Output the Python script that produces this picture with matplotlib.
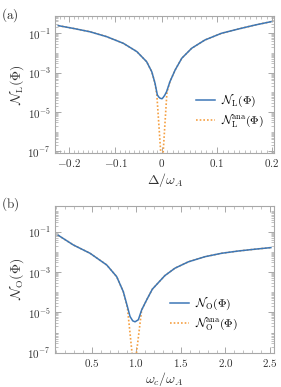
import numpy as np
import matplotlib
matplotlib.use("Agg")
import matplotlib.pyplot as plt
from matplotlib.ticker import FixedLocator, MultipleLocator, LogLocator, FuncFormatter, NullFormatter

plt.rcParams['mathtext.fontset'] = 'cm'
plt.rcParams['font.family'] = 'serif'
plt.rcParams['font.serif'] = ['DejaVu Serif']

# panel (a): negativity vs detuning
delta = [-0.223, -0.191, -0.155, -0.119, -0.083, -0.054, -0.033, -0.022, -0.015,
         -0.010, -0.007, -0.004, 0.0, 0.002, 0.005, 0.0085, 0.0145, 0.024,
         0.036, 0.054, 0.078, 0.108, 0.139, 0.169, 0.198]
nl = [0.245, 0.178, 0.120, 0.0676, 0.0309, 0.0117, 3.6e-3, 1.12e-3, 2.9e-4,
      7.4e-5, 5.8e-5, 5.0e-5, 4.7e-5, 5.4e-5, 7.1e-5, 1.1e-4, 3.5e-4, 1.38e-3,
      5.4e-3, 0.0174, 0.0457, 0.100, 0.166, 0.263, 0.389]
delta_ana = [-0.223, -0.191, -0.155, -0.119, -0.083, -0.054, -0.033, -0.022, -0.015,
             -0.011, 0.0, 0.009, 0.0145, 0.024, 0.036, 0.054, 0.078, 0.108,
             0.139, 0.169, 0.198]
nl_ana = [0.245, 0.178, 0.120, 0.0676, 0.0309, 0.0117, 3.6e-3, 1.12e-3, 2.9e-4,
          7.1e-5, 1e-8, 1.0e-4, 3.5e-4, 1.38e-3, 5.4e-3, 0.0174, 0.0457, 0.100,
          0.166, 0.263, 0.389]

# panel (b): negativity vs cavity frequency
wc = [0.125, 0.294, 0.481, 0.668, 0.78, 0.854, 0.90, 0.93, 0.96, 0.986, 1.023,
      1.06, 1.117, 1.18, 1.32, 1.434, 1.584, 1.771, 1.958, 2.145, 2.33, 2.51]
no = [0.066, 0.0219, 8.5e-3, 2.24e-3, 5.9e-4, 1.07e-4, 1.95e-5, 6.2e-6, 3.8e-6,
      3.4e-6, 4.3e-6, 1.32e-5, 4.2e-5, 1.41e-4, 6.6e-4, 1.55e-3, 3.2e-3, 5.75e-3,
      8.5e-3, 0.011, 0.0135, 0.0162]
wc_ana = [0.125, 0.294, 0.481, 0.668, 0.78, 0.854, 0.90, 0.975, 1.06, 1.117,
          1.18, 1.32, 1.434, 1.584, 1.771, 1.958, 2.145, 2.33, 2.51]
no_ana = [0.066, 0.0219, 8.5e-3, 2.24e-3, 5.9e-4, 1.07e-4, 1.8e-5, 1e-8, 1.3e-5,
          4.2e-5, 1.41e-4, 6.6e-4, 1.55e-3, 3.2e-3, 5.75e-3, 8.5e-3, 0.011,
          0.0135, 0.0162]

blue = '#3d77b6'
orange = '#f5a043'
frame = '#a8a8a8'
txt = '#333333'


def fwd(x):
    x = np.asarray(x, dtype=float)
    return np.where(x < 0, x * 0.845, x)


def inv(y):
    y = np.asarray(y, dtype=float)
    return np.where(y < 0, y / 0.845, y)


def style(ax):
    for s in ax.spines.values():
        s.set_color(frame)
        s.set_linewidth(0.8)
    ax.tick_params(which='both', direction='in', top=True, right=True,
                   color=frame, labelcolor=txt, labelsize=8, pad=3)
    ax.tick_params(which='major', length=4, width=0.7)
    ax.tick_params(which='minor', length=2, width=0.5)
    ax.set_yscale('log')
    ax.yaxis.set_major_locator(FixedLocator([1e-7, 1e-5, 1e-3, 1e-1]))
    ax.yaxis.set_minor_locator(LogLocator(base=10, subs=np.arange(1, 10), numticks=20))
    ax.yaxis.set_minor_formatter(NullFormatter())
    ax.yaxis.set_major_formatter(FuncFormatter(lambda v, p: r'$10^{%d}$' % round(np.log10(v))))


fig = plt.figure(figsize=(2.81, 3.87), dpi=100)
ax1 = fig.add_axes([0.1957, 0.6039, 0.7804, 0.3548])
ax2 = fig.add_axes([0.1957, 0.0886, 0.7804, 0.3790])

# (a)
ax1.set_xscale('function', functions=(fwd, inv))
style(ax1)
ax1.plot(delta, nl, color=blue, lw=1.1, zorder=3, label=r'$\mathcal{N}_{\mathrm{L}}(\Phi)$')
ax1.plot(delta_ana, nl_ana, color=orange, lw=1.2, ls=(0, (1, 1.2)), zorder=2,
         label=r'$\mathcal{N}_{\mathrm{L}}^{\mathrm{ana}}(\Phi)$')
ax1.set_xlim(-0.230, 0.204)
ax1.set_ylim(10**-7.1, 10**-0.12)
ax1.xaxis.set_major_locator(FixedLocator([-0.2, -0.1, 0.0, 0.1, 0.2]))
ax1.xaxis.set_minor_locator(MultipleLocator(0.01))
ax1.xaxis.set_major_formatter(FuncFormatter(lambda v, p: r'$%g$' % round(v, 2)))
ax1.set_xlabel(r'$\Delta/\omega_A$', fontsize=10, color=txt, labelpad=1)
ax1.set_ylabel(r'$\mathcal{N}_{\mathrm{L}}(\Phi)$', fontsize=10, color=txt, labelpad=1)
ax1.legend(loc='lower right', bbox_to_anchor=(1.0, 0.10), frameon=False,
           fontsize=8.5, handlelength=1.6, handletextpad=0.5, labelspacing=0.3)
fig.text(0.005, 0.985, r'$(\mathrm{a})$', fontsize=9.5, color=txt, va='top')

# (b)
style(ax2)
ax2.plot(wc, no, color=blue, lw=1.1, zorder=3, label=r'$\mathcal{N}_{\mathrm{O}}(\Phi)$')
ax2.plot(wc_ana, no_ana, color=orange, lw=1.2, ls=(0, (1, 1.2)), zorder=2,
         label=r'$\mathcal{N}_{\mathrm{O}}^{\mathrm{ana}}(\Phi)$')
ax2.set_xlim(0.088, 2.548)
ax2.set_ylim(1e-7, 10**0.27)
ax2.xaxis.set_major_locator(MultipleLocator(0.5))
ax2.xaxis.set_minor_locator(MultipleLocator(0.1))
ax2.xaxis.set_major_formatter(FuncFormatter(lambda v, p: r'$%.1f$' % v))
ax2.set_xlabel(r'$\omega_c/\omega_A$', fontsize=10, color=txt, labelpad=1)
ax2.set_ylabel(r'$\mathcal{N}_{\mathrm{O}}(\Phi)$', fontsize=10, color=txt, labelpad=1)
ax2.legend(loc='lower right', bbox_to_anchor=(0.88, 0.07), frameon=False,
           fontsize=8.5, handlelength=1.6, handletextpad=0.5, labelspacing=0.3)
fig.text(0.005, 0.495, r'$(\mathrm{b})$', fontsize=9.5, color=txt, va='top')

fig.savefig('out.png', dpi=100)
